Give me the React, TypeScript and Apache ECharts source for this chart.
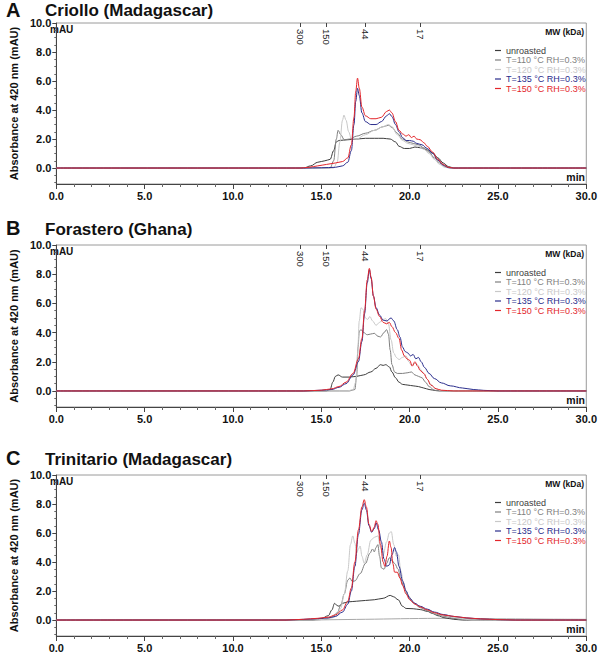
import React, { useEffect, useRef } from 'react';
import * as echarts from 'echarts';

const FONT = "'Liberation Sans', Arial, sans-serif";

const SERIES_NAMES = ['unroasted', 'T=110 °C RH=0.3%', 'T=120 °C RH=0.3%', 'T=135 °C RH=0.3%', 'T=150 °C RH=0.3%'];
const SERIES_COLORS = ['#3c3c3c', '#7f7f7f', '#c8c8c8', '#2a2d8c', '#e3262b'];
const PANEL_LETTERS = ['A', 'B', 'C'];
const PANEL_TITLES = ['Criollo (Madagascar)', 'Forastero (Ghana)', 'Trinitario (Madagascar)'];
const Y_MAJOR = [0, 2, 4, 6, 8, 10];
const Y_MINOR = [-1, -0.5, 0.5, 1, 1.5, 2.5, 3, 3.5, 4.5, 5, 5.5, 6.5, 7, 7.5, 8.5, 9, 9.5];
const MW_POSITIONS = [13.8, 15.3, 17.5, 20.6];
const MW_LABELS = ['300', '150', '44', '17'];

// Panel A – Criollo (Madagascar)
const A_UNROASTED = [[0, 0], [14.0, 0], [14.4, 0.15], [14.8, 0.4], [15.2, 0.5], [15.5, 0.6], [15.7, 1.2], [15.85, 1.8], [16.0, 1.9], [16.5, 1.95], [17.0, 2.0], [17.5, 2.05], [18.0, 2.05], [18.5, 2.05], [18.9, 2.0], [19.2, 1.8], [19.4, 1.5], [19.7, 1.35], [20.0, 1.35], [20.3, 1.45], [20.6, 1.4], [21.0, 1.25], [21.3, 1.05], [21.6, 0.7], [21.9, 0.35], [22.2, 0.1], [22.5, 0], [30, 0]];
const A_T110 = [[0, 0], [15.5, 0], [15.7, 0.5], [15.85, 2.0], [15.95, 2.6], [16.1, 2.3], [16.3, 1.95], [16.6, 2.0], [17.0, 2.2], [17.5, 2.4], [18.0, 2.6], [18.5, 2.85], [18.8, 2.95], [19.0, 2.8], [19.3, 2.4], [19.6, 2.0], [19.9, 1.8], [20.2, 1.7], [20.5, 1.6], [20.8, 1.4], [21.1, 1.1], [21.4, 0.7], [21.7, 0.35], [22.0, 0.1], [22.3, 0], [30, 0]];
const A_T120 = [[0, 0], [15.7, 0], [15.9, 0.4], [16.05, 1.8], [16.2, 3.3], [16.28, 3.65], [16.4, 3.3], [16.55, 2.5], [16.7, 2.0], [17.0, 2.0], [17.5, 2.3], [18.0, 2.6], [18.5, 2.85], [18.8, 3.0], [19.0, 2.85], [19.3, 2.3], [19.6, 1.9], [19.9, 1.7], [20.2, 1.6], [20.5, 1.5], [20.8, 1.3], [21.1, 1.0], [21.4, 0.6], [21.7, 0.25], [22.0, 0.05], [22.3, 0], [30, 0]];
const A_T135 = [[0, 0], [14.0, 0], [15.0, 0.02], [15.8, 0.05], [16.2, 0.15], [16.5, 0.4], [16.7, 1.2], [16.85, 3.0], [16.95, 4.6], [17.05, 5.5], [17.15, 5.0], [17.3, 3.8], [17.5, 3.2], [17.8, 3.0], [18.1, 3.0], [18.4, 3.2], [18.7, 3.6], [18.85, 3.75], [19.0, 3.55], [19.2, 3.0], [19.4, 2.5], [19.6, 2.1], [19.8, 1.9], [20.0, 1.9], [20.2, 1.85], [20.4, 1.7], [20.7, 1.6], [21.0, 1.35], [21.3, 1.0], [21.6, 0.55], [21.9, 0.2], [22.2, 0.03], [22.5, 0], [30, 0]];
const A_T150 = [[0, 0], [13.8, 0], [14.3, 0.05], [14.8, 0.15], [15.3, 0.25], [15.8, 0.35], [16.2, 0.45], [16.5, 0.7], [16.7, 1.6], [16.85, 3.5], [16.95, 5.3], [17.05, 6.2], [17.15, 5.5], [17.3, 4.2], [17.5, 3.6], [17.8, 3.4], [18.1, 3.4], [18.4, 3.5], [18.7, 3.9], [18.85, 4.0], [19.0, 3.8], [19.2, 3.2], [19.4, 2.6], [19.6, 2.35], [19.8, 2.2], [19.95, 2.3], [20.1, 2.1], [20.25, 2.2], [20.4, 2.0], [20.6, 1.95], [20.8, 1.75], [21.0, 1.5], [21.3, 1.1], [21.6, 0.6], [21.9, 0.25], [22.2, 0.05], [22.5, 0], [30, 0]];

// Panel B – Forastero (Ghana)
const B_UNROASTED = [[0, 0], [15.3, 0], [15.5, 0.1], [15.65, 0.6], [15.8, 1.0], [15.95, 1.1], [16.2, 0.95], [16.6, 0.95], [17.0, 1.0], [17.4, 1.1], [17.8, 1.3], [18.1, 1.55], [18.35, 1.8], [18.5, 1.75], [18.65, 1.8], [18.85, 1.65], [19.0, 1.3], [19.2, 0.9], [19.4, 0.6], [19.6, 0.45], [19.9, 0.4], [20.2, 0.35], [20.5, 0.3], [20.8, 0.2], [21.1, 0.1], [21.5, 0.02], [22, 0], [30, 0]];
const B_T110 = [[0, 0], [16.6, 0], [16.9, 0.1], [17.0, 1.0], [17.08, 3.0], [17.15, 4.1], [17.25, 4.2], [17.4, 4.0], [17.6, 3.85], [17.8, 3.9], [18.0, 3.95], [18.2, 3.75], [18.35, 3.7], [18.55, 4.0], [18.7, 4.2], [18.8, 3.9], [18.9, 2.8], [19.0, 1.8], [19.15, 1.3], [19.3, 1.2], [19.6, 1.2], [19.9, 1.25], [20.1, 1.3], [20.3, 1.1], [20.5, 1.0], [20.7, 0.9], [20.9, 0.6], [21.1, 0.3], [21.4, 0.05], [21.7, 0], [30, 0]];
const B_T120 = [[0, 0], [16.5, 0], [16.8, 0.1], [16.95, 0.6], [17.05, 2.5], [17.15, 4.8], [17.25, 5.7], [17.35, 5.6], [17.5, 5.0], [17.62, 4.9], [17.75, 5.1], [17.9, 4.8], [18.1, 4.5], [18.3, 4.7], [18.5, 4.9], [18.65, 4.95], [18.8, 4.6], [18.95, 3.5], [19.1, 2.6], [19.25, 2.3], [19.4, 2.15], [19.6, 2.3], [19.8, 2.4], [19.95, 2.0], [20.1, 1.75], [20.3, 1.9], [20.45, 1.8], [20.6, 1.5], [20.8, 1.2], [21.0, 0.8], [21.2, 0.45], [21.5, 0.15], [21.8, 0], [30, 0]];
const B_T135 = [[0, 0], [14.0, 0], [15.0, 0.05], [15.6, 0.1], [16.0, 0.25], [16.4, 0.5], [16.8, 1.1], [17.1, 2.0], [17.3, 3.4], [17.45, 5.3], [17.6, 7.4], [17.72, 8.3], [17.82, 7.7], [17.95, 6.5], [18.1, 5.7], [18.3, 5.2], [18.5, 4.85], [18.7, 4.8], [18.95, 5.0], [19.1, 4.8], [19.3, 4.2], [19.45, 3.7], [19.6, 3.0], [19.75, 2.7], [19.9, 2.6], [20.05, 2.4], [20.2, 2.5], [20.35, 2.2], [20.5, 2.3], [20.65, 2.0], [20.85, 1.6], [21.1, 1.2], [21.4, 0.85], [21.8, 0.55], [22.3, 0.35], [23.0, 0.2], [23.6, 0.1], [24.2, 0.04], [25, 0], [30, 0]];
const B_T150 = [[0, 0], [14.0, 0], [15.0, 0.05], [15.6, 0.15], [16.0, 0.3], [16.4, 0.6], [16.8, 1.2], [17.1, 2.2], [17.3, 3.6], [17.45, 5.5], [17.6, 7.6], [17.72, 8.4], [17.82, 7.8], [17.95, 6.5], [18.1, 5.6], [18.3, 5.1], [18.5, 4.7], [18.7, 4.6], [18.85, 4.7], [19.0, 4.4], [19.2, 4.0], [19.4, 3.6], [19.55, 2.8], [19.7, 2.4], [19.85, 2.2], [20.0, 2.1], [20.15, 1.7], [20.3, 2.0], [20.45, 1.7], [20.6, 1.4], [20.8, 1.2], [21.0, 0.8], [21.2, 0.4], [21.5, 0.15], [21.8, 0.05], [22.5, 0], [30, 0]];

// Panel C – Trinitario (Madagascar)
const C_UNROASTED = [[0, 0], [14.5, 0], [15.0, 0.1], [15.4, 0.3], [15.6, 0.7], [15.75, 1.15], [15.9, 1.0], [16.0, 0.95], [16.2, 1.15], [16.5, 1.25], [17.0, 1.3], [17.5, 1.35], [18.0, 1.4], [18.5, 1.5], [18.9, 1.7], [19.1, 1.6], [19.35, 1.4], [19.6, 0.95], [19.8, 0.8], [20.2, 0.78], [20.6, 0.72], [21.0, 0.6], [21.3, 0.45], [21.6, 0.3], [22.0, 0.15], [22.5, 0.05], [23, 0], [30, 0]];
const C_T110 = [[0, 0], [14.5, 0], [15.2, 0.05], [15.6, 0.2], [15.9, 0.5], [16.1, 1.0], [16.3, 1.8], [16.5, 2.75], [16.62, 2.9], [16.75, 2.65], [16.9, 2.7], [17.2, 3.2], [17.5, 3.9], [17.75, 4.6], [17.9, 4.9], [18.0, 4.7], [18.1, 5.0], [18.2, 5.2], [18.3, 4.4], [18.4, 3.6], [18.55, 3.5], [18.7, 3.9], [18.85, 4.3], [19.0, 4.1], [19.15, 3.9], [19.35, 3.5], [19.5, 2.8], [19.7, 2.2], [19.9, 1.7], [20.2, 1.2], [20.6, 0.85], [21.0, 0.65], [21.5, 0.4], [22.0, 0.25], [22.5, 0.12], [23, 0.03], [23.5, 0], [30, 0]];
const C_T120 = [[0, 0], [14.5, 0], [15.2, 0.05], [15.6, 0.15], [15.9, 0.3], [16.1, 0.8], [16.3, 1.8], [16.5, 3.4], [16.65, 5.2], [16.78, 5.8], [16.9, 5.3], [17.0, 4.6], [17.1, 4.9], [17.2, 5.1], [17.3, 4.4], [17.43, 3.9], [17.6, 4.5], [17.8, 5.5], [18.0, 5.7], [18.2, 5.8], [18.35, 5.0], [18.5, 4.5], [18.7, 5.4], [18.85, 6.0], [18.96, 6.1], [19.1, 5.2], [19.25, 4.4], [19.37, 4.5], [19.5, 3.4], [19.65, 2.6], [19.8, 2.0], [20.0, 1.5], [20.3, 1.1], [20.6, 0.9], [21.0, 0.7], [21.5, 0.45], [22, 0.3], [22.5, 0.18], [23, 0.08], [23.5, 0], [30, 0]];
const C_T135 = [[0, 0], [13, 0], [14, 0.05], [14.8, 0.1], [15.4, 0.15], [15.8, 0.25], [16.2, 0.55], [16.5, 1.1], [16.7, 2.0], [16.9, 3.7], [17.1, 5.9], [17.3, 7.6], [17.43, 8.05], [17.55, 7.6], [17.7, 6.5], [17.85, 6.05], [18.0, 6.3], [18.1, 6.7], [18.25, 6.2], [18.4, 5.4], [18.55, 4.2], [18.7, 3.7], [18.85, 3.8], [19.0, 4.5], [19.15, 5.0], [19.25, 4.7], [19.4, 3.7], [19.6, 2.7], [19.8, 2.0], [20.0, 1.5], [20.3, 1.15], [20.6, 0.95], [21.0, 0.75], [21.4, 0.55], [21.9, 0.38], [22.5, 0.25], [23.2, 0.15], [24, 0.08], [25, 0.03], [26, 0], [30, 0]];
const C_T150 = [[0, 0], [13, 0], [14, 0.05], [14.8, 0.12], [15.4, 0.2], [15.8, 0.35], [16.2, 0.7], [16.5, 1.3], [16.7, 2.2], [16.9, 4.0], [17.1, 6.2], [17.3, 7.8], [17.43, 8.3], [17.55, 7.8], [17.7, 6.6], [17.85, 6.1], [18.0, 6.4], [18.1, 6.85], [18.2, 6.6], [18.35, 5.2], [18.5, 4.0], [18.6, 3.7], [18.72, 4.4], [18.85, 5.45], [18.95, 5.0], [19.05, 3.9], [19.15, 3.3], [19.3, 3.3], [19.45, 2.9], [19.6, 2.4], [19.8, 1.8], [20.0, 1.4], [20.3, 1.1], [20.6, 0.9], [21.0, 0.7], [21.4, 0.5], [21.9, 0.35], [22.5, 0.25], [23.2, 0.15], [24, 0.08], [25, 0.03], [26, 0], [30, 0]];
const C_DRIFT = [[0, 0], [14, 0], [16, 0.03], [18, 0.06], [20, 0.1], [22, 0.12], [24, 0.1], [26, 0.08], [28, 0.06], [30, 0.05]];
const DRIFT_COLOR = '#a8a8a8';

const PANEL_CURVES = [
  [A_UNROASTED, A_T110, A_T120, A_T135, A_T150],
  [B_UNROASTED, B_T110, B_T120, B_T135, B_T150],
  [C_UNROASTED, C_T110, C_T120, C_T135, C_T150],
];

const LAYOUT = [
  { top: 23, height: 161, titleTop: 2, letterTop: 0 },
  { top: 245, height: 162, titleTop: 221, letterTop: 218 },
  { top: 475, height: 161, titleTop: 451, letterTop: 448 },
];
const GRID_LEFT = 48;
const GRID_RIGHT = 12;
const WIDTH = 600;
const HEIGHT = 653;

export default function App() {
  const ref = useRef<HTMLDivElement>(null);
  useEffect(() => {
    document.body.style.margin = '0';
    if (!ref.current) return;
    const chart = echarts.init(ref.current, undefined, { renderer: 'svg' });

    const grid: any[] = [];
    const xAxis: any[] = [];
    const yAxis: any[] = [];
    const series: any[] = [];
    const legend: any[] = [];
    const title: any[] = [];
    const graphic: any[] = [];

    LAYOUT.forEach((g, i) => {
      grid.push({
        left: GRID_LEFT, right: GRID_RIGHT, top: g.top, height: g.height,
        show: true, borderColor: '#9a9a9a', borderWidth: 1, backgroundColor: 'transparent',
      });
      xAxis.push({
        type: 'value', gridIndex: i, min: 0, max: 30, interval: 5, position: 'bottom',
        axisLine: { show: true, onZero: false, lineStyle: { color: '#444', width: 1 } },
        axisTick: { show: true, length: 5, lineStyle: { color: '#444' } },
        minorTick: { show: true, splitNumber: 5, length: 3, lineStyle: { color: '#666' } },
        splitLine: { show: false }, minorSplitLine: { show: false },
        axisLabel: {
          formatter: (v: number) => v.toFixed(1), fontFamily: FONT, fontWeight: 'bold',
          fontSize: 11, color: '#111', margin: 6,
        },
      });
      xAxis.push({
        type: 'value', gridIndex: i, min: 0, max: 30, position: 'top',
        axisLine: { show: false, onZero: false },
        axisTick: { show: true, inside: true, length: 4, customValues: MW_POSITIONS, lineStyle: { color: '#444' } },
        splitLine: { show: false },
        axisLabel: {
          show: true, inside: true, rotate: 90, customValues: MW_POSITIONS, margin: 6,
          formatter: (v: number) => MW_LABELS[MW_POSITIONS.indexOf(v)] ?? '',
          fontFamily: FONT, fontSize: 9.5, color: '#222',
        },
      });
      yAxis.push({
        type: 'value', gridIndex: i, min: -1.1, max: 10, position: 'left',
        axisLine: { show: true, onZero: false, lineStyle: { color: '#444', width: 1 } },
        axisTick: { show: true, length: 4, customValues: Y_MAJOR, lineStyle: { color: '#444' } },
        splitLine: { show: false },
        axisLabel: {
          customValues: Y_MAJOR, formatter: (v: number) => v.toFixed(1), fontFamily: FONT,
          fontWeight: 'bold', fontSize: 11, color: '#111', margin: 5,
        },
        name: 'Absorbance at 420 nm (mAU)', nameLocation: 'middle', nameGap: 32,
        nameTextStyle: { fontFamily: FONT, fontWeight: 'bold', fontSize: 11, color: '#111' },
      });
      yAxis.push({
        type: 'value', gridIndex: i, min: -1.1, max: 10, position: 'left',
        axisLine: { show: false, onZero: false },
        axisTick: { show: true, length: 2, customValues: Y_MINOR, lineStyle: { color: '#666' } },
        axisLabel: { show: false }, splitLine: { show: false },
      });

      PANEL_CURVES[i].forEach((data, k) => {
        series.push({
          type: 'line', name: SERIES_NAMES[k], xAxisIndex: i * 2, yAxisIndex: i * 2, data,
          showSymbol: false, symbol: 'none', smooth: 0.35, smoothMonotone: 'x',
          lineStyle: { width: 1, color: SERIES_COLORS[k] }, itemStyle: { color: SERIES_COLORS[k] },
          z: 2 + k,
        });
        if (i === 2 && k === 0) {
          series.push({
            type: 'line', name: 'drift', xAxisIndex: 4, yAxisIndex: 4, data: C_DRIFT,
            showSymbol: false, symbol: 'none', smooth: 0.35,
            lineStyle: { width: 1, color: DRIFT_COLOR }, itemStyle: { color: DRIFT_COLOR }, z: 1,
          });
        }
      });

      legend.push({
        orient: 'vertical', left: 495, top: g.top + 23, itemWidth: 6, itemHeight: 1.2,
        itemGap: 0.5, icon: 'rect', selectedMode: false, padding: 0,
        textStyle: { fontFamily: FONT, fontSize: 9, lineHeight: 9 },
        data: SERIES_NAMES.map((n, k) => ({
          name: n, itemStyle: { color: SERIES_COLORS[k] }, textStyle: { color: SERIES_COLORS[k] },
        })),
      });

      title.push({
        text: PANEL_LETTERS[i], left: 6, top: g.letterTop, padding: 0,
        textStyle: { fontFamily: FONT, fontWeight: 'bold', fontSize: 20, color: '#111' },
      });
      title.push({
        text: PANEL_TITLES[i], left: 45, top: g.titleTop, padding: 0,
        textStyle: { fontFamily: FONT, fontWeight: 'bold', fontSize: 17, color: '#111' },
      });

      const bottom = g.top + g.height;
      graphic.push({
        type: 'text', left: GRID_LEFT + 2, top: g.top + 1,
        style: { text: 'mAU', font: `bold 10px ${FONT}`, fill: '#111' },
      });
      graphic.push({
        type: 'text', right: GRID_RIGHT + 3, top: bottom - 13,
        style: { text: 'min', font: `bold 10.5px ${FONT}`, fill: '#111' },
      });
      graphic.push({
        type: 'text', right: GRID_RIGHT + 4, top: g.top + 4,
        style: { text: 'MW (kDa)', font: `bold 8.5px ${FONT}`, fill: '#111' },
      });
    });

    chart.setOption({
      animation: false,
      backgroundColor: '#ffffff',
      textStyle: { fontFamily: FONT },
      title, grid, xAxis, yAxis, series, legend, graphic,
    });
    return () => chart.dispose();
  }, []);
  return <div ref={ref} style={{ width: WIDTH, height: HEIGHT }} />;
}
